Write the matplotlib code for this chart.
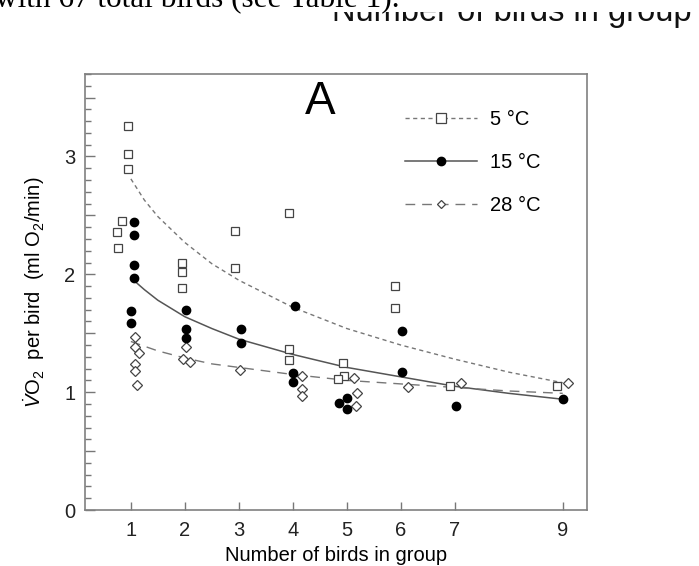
import numpy as np
import matplotlib
matplotlib.use('Agg')
import matplotlib.pyplot as plt
from matplotlib.lines import Line2D
from matplotlib.patches import Rectangle
from matplotlib.ticker import MultipleLocator, FixedLocator

plt.rcParams['font.family'] = ['Liberation Sans', 'DejaVu Sans']
plt.rcParams['mathtext.fontset'] = 'custom'
plt.rcParams['mathtext.rm'] = 'Liberation Sans'
plt.rcParams['mathtext.it'] = 'Liberation Sans:italic'

# Oxygen consumption per bird (ml O2/min) against group size, three temperatures
x_5c = [0.94, 0.94, 0.94, 0.83, 0.75, 0.76, 1.94, 1.94, 1.94, 2.93, 2.93,
        3.93, 3.93, 3.93, 4.93, 4.94, 4.83, 5.90, 5.90, 6.91, 8.90]
y_5c = [3.26, 3.02, 2.89, 2.45, 2.36, 2.22, 2.10, 2.02, 1.88, 2.37, 2.05,
        2.52, 1.37, 1.27, 1.25, 1.14, 1.11, 1.90, 1.71, 1.05, 1.05]

x_15c = [1.05, 1.05, 1.05, 1.05, 1.01, 1.01, 2.03, 2.03, 2.03, 3.04, 3.04,
         4.04, 4.00, 4.00, 4.86, 5.01, 5.01, 6.02, 6.02, 7.02, 9.01]
y_15c = [2.44, 2.33, 2.08, 1.97, 1.69, 1.59, 1.70, 1.54, 1.46, 1.54, 1.42,
         1.73, 1.16, 1.09, 0.91, 0.95, 0.86, 1.52, 1.17, 0.88, 0.94]

x_28c = [1.07, 1.07, 1.15, 1.07, 1.07, 1.12, 2.03, 1.96, 2.09, 3.02,
         4.17, 4.17, 4.17, 5.14, 5.19, 5.17, 6.13, 7.11, 9.10]
y_28c = [1.47, 1.38, 1.33, 1.24, 1.18, 1.06, 1.38, 1.28, 1.26, 1.19,
         1.14, 1.03, 0.97, 1.12, 0.99, 0.88, 1.04, 1.08, 1.08]

# fitted trend lines
fit_x = [1, 1.25, 1.5, 2, 2.5, 3, 4, 5, 6, 7, 8, 9]
fit_5c = [2.81, 2.63, 2.49, 2.27, 2.09, 1.95, 1.72, 1.54, 1.40, 1.28, 1.17, 1.08]
fit_15c = [1.97, 1.87, 1.78, 1.64, 1.54, 1.45, 1.32, 1.21, 1.13, 1.05, 0.99, 0.94]
fit_28c = [1.43, 1.39, 1.35, 1.29, 1.24, 1.21, 1.15, 1.10, 1.07, 1.04, 1.01, 0.99]

xticks = [1, 2, 3, 4, 5, 6, 7, 9]
series_labels = ['5 °C', '15 °C', '28 °C']

fig = plt.figure(figsize=(6.99, 5.66), dpi=100)
ax = fig.add_axes([85 / 699, 56 / 566, 502 / 699, 436 / 566])

line_col = '#777777'
short_dash = (0, (3, 2.5))
long_dash = (0, (7, 5))

ax.plot(fit_x, fit_5c, color=line_col, lw=1.0, linestyle=short_dash, zorder=2)
ax.plot(fit_x, fit_15c, color='#555555', lw=1.1, linestyle='-', zorder=2)
ax.plot(fit_x, fit_28c, color=line_col, lw=1.0, linestyle=long_dash, zorder=2)

ax.plot(x_5c, y_5c, ls='none', marker='s', ms=5.5, mfc='white', mec='#444444',
        mew=0.9, zorder=3)
ax.plot(x_15c, y_15c, ls='none', marker='o', ms=6, mfc='black', mec='black',
        zorder=4)
ax.plot(x_28c, y_28c, ls='none', marker='D', ms=5, mfc='white', mec='#444444',
        mew=0.9, zorder=3)

ax.set_xlim(0.15, 9.45)
ax.set_ylim(0, 3.7)

ax.xaxis.set_major_locator(FixedLocator(xticks))
ax.set_xticklabels([str(t) for t in xticks])
ax.yaxis.set_minor_locator(MultipleLocator(0.1))
ax.set_yticks(np.arange(0, 3.51, 0.5))
ax.set_yticklabels(['0', '', '1', '', '2', '', '3', ''])

ax.tick_params(axis='both', which='both', direction='in', color='#777777',
               labelsize=14.5, labelcolor='#222222', top=False, right=False)
ax.tick_params(axis='y', which='major', length=7, width=1, pad=7)
ax.tick_params(axis='y', which='minor', length=4, width=1)
ax.tick_params(axis='x', which='major', length=6, width=1, pad=8)

for sp in ax.spines.values():
    sp.set_color('#808080')
    sp.set_linewidth(1.2)

ax.set_xlabel('Number of birds in group', fontsize=14.5, labelpad=4)
ax.set_ylabel(r'$\dot{V}$O$_2$  per bird  (ml O$_2$/min)', fontsize=14.5,
              labelpad=12)

ax.text(0.468, 0.935, 'A', transform=ax.transAxes, fontsize=33,
        ha='center', va='center')

handles = [
    Line2D([], [], color=line_col, lw=1.0, linestyle=short_dash, marker='s',
           ms=7, mfc='white', mec='#444444', mew=0.9),
    Line2D([], [], color='#555555', lw=1.1, linestyle='-', marker='o',
           ms=6, mfc='black', mec='black'),
    Line2D([], [], color=line_col, lw=1.0, linestyle=long_dash, marker='D',
           ms=4.5, mfc='white', mec='#444444', mew=0.9),
]
ax.legend(handles, series_labels, loc='upper left',
          bbox_to_anchor=(0.637, 0.918), frameon=False, fontsize=14.5,
          handlelength=3.6, handletextpad=0.65, labelspacing=1.2,
          borderpad=0, borderaxespad=0, numpoints=1)

# page text cut off above the figure
fig.text(-5 / 699, 1 - 7 / 566, 'with 67 total birds (see Table 1).',
         family='Liberation Serif', fontsize=22.5, va='baseline', ha='left',
         zorder=5)
fig.text(332 / 699, 1 - 21 / 566, 'Number of birds in group',
         fontsize=23.5, va='baseline', ha='left', color='#111111', zorder=3)
# the upper part of the heading line is hidden by a white band
fig.patches.append(Rectangle((325 / 699, 1 - 12 / 566), 374 / 699, 12 / 566,
                             transform=fig.transFigure, facecolor='white',
                             edgecolor='none', zorder=4))

fig.savefig('out.png', dpi=100)
